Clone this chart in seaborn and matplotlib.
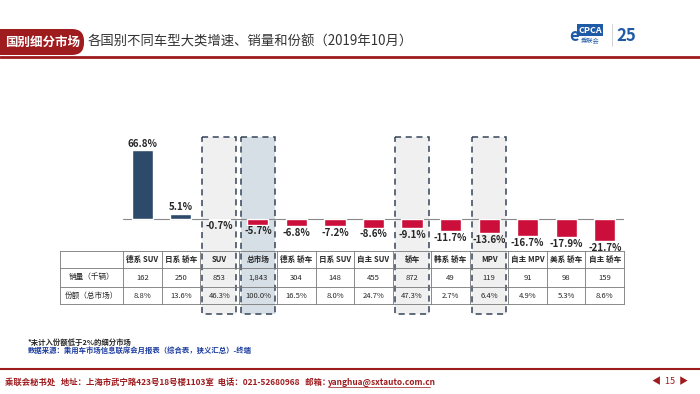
import matplotlib
matplotlib.use("Agg")
import matplotlib.pyplot as plt
from matplotlib.patches import Rectangle, FancyBboxPatch
import seaborn as sns
import pandas as pd

# ---- data ----
categories = ["德系 SUV", "日系 轿车", "SUV", "总市场", "德系 轿车", "日系 SUV", "自主 SUV",
              "轿车", "韩系 轿车", "MPV", "自主 MPV", "美系 轿车", "自主 轿车"]
growth = [66.8, 5.1, -0.7, -5.7, -6.8, -7.2, -8.6, -9.1, -11.7, -13.6, -16.7, -17.9, -21.7]
sales = ["162", "250", "853", "1,843", "304", "148", "455", "872", "49", "119", "91", "98", "159"]
share = [8.8, 13.6, 46.3, 100.0, 16.5, 8.0, 24.7, 47.3, 2.7, 6.4, 4.9, 5.3, 8.6]
row_labels = ["销量（千辆）", "份额（总市场）"]
highlight = ["SUV", "总市场", "轿车", "MPV"]

sns.set_theme(style="white")
plt.rcParams["font.family"] = ["Noto Sans CJK SC", "DejaVu Sans"]

W, H = 700, 394
DARK_RED = "#9E1B1E"
NAVY = "#2E4A6B"
CRIMSON = "#CC0E3A"

fig = plt.figure(figsize=(W / 100, H / 100), dpi=100)

# overlay axes in pixel coordinates for slide decorations and the table
ov = fig.add_axes([0, 0, 1, 1])
ov.set_xlim(0, W)
ov.set_ylim(H, 0)
ov.axis("off")

# header
ov.add_patch(FancyBboxPatch((-20, 29), 104, 26, boxstyle="round,pad=0,rounding_size=12",
                            fc=DARK_RED, ec="none"))
ov.text(5, 42, "国别细分市场", color="white", fontsize=9.0, fontweight="bold", va="center")
ov.text(88, 42, "各国别不同车型大类增速、销量和份额（2019年10月）", color="#333333",
        fontsize=9.6, va="center")
ov.plot([0, W], [57, 57], color=DARK_RED, lw=2)
# logo (approximation)
ov.text(590, 30, "CPCA", color="white", fontsize=6.5, fontweight="bold", style="italic",
        va="center", ha="center", bbox=dict(fc="#1F5AA6", ec="none", pad=1))
ov.text(590, 41, "乘联会", color="#1F5AA6", fontsize=4.5, va="center", ha="center")
ov.text(574, 36, "e", color="#1F5AA6", fontsize=12, fontweight="bold", style="italic",
        va="center", ha="center")
ov.plot([612, 612], [24, 46], color="#cccccc", lw=0.6)
ov.text(626, 36, "25", color="#1F5AA6", fontsize=12, fontweight="bold", style="italic",
        va="center", ha="center")

# table geometry
x0, x1 = 123, 624
col_w = (x1 - x0) / len(categories)
tab_left = 60
rows_y = [251, 268, 287, 304]

# dashed highlight boxes
for cat in highlight:
    i = categories.index(cat)
    cx = x0 + (i + 0.5) * col_w
    fc = "#D6DEE6" if cat == "总市场" else "#F0F0F0"
    ov.add_patch(Rectangle((cx - 17, 137), 34, 177, fc=fc, ec="#35455A", lw=1.1,
                           ls=(0, (4, 3)), zorder=1))

# table grid
for y in rows_y:
    ov.plot([tab_left, x1], [y, y], color="#777777", lw=0.6, zorder=2)
for k in range(len(categories) + 1):
    x = x0 + k * col_w
    ov.plot([x, x], [rows_y[0], rows_y[-1]], color="#777777", lw=0.6, zorder=2)
ov.plot([tab_left, tab_left], [rows_y[0], rows_y[-1]], color="#777777", lw=0.6, zorder=2)

for i, cat in enumerate(categories):
    cx = x0 + (i + 0.5) * col_w
    ov.text(cx, (rows_y[0] + rows_y[1]) / 2, cat, fontsize=5.5, fontweight="bold",
            ha="center", va="center", zorder=3)
    ov.text(cx, (rows_y[1] + rows_y[2]) / 2, sales[i], fontsize=5.5,
            ha="center", va="center", zorder=3)
    ov.text(cx, (rows_y[2] + rows_y[3]) / 2, f"{share[i]:.1f}%", fontsize=5.5,
            ha="center", va="center", zorder=3)
for r, lab in enumerate(row_labels):
    ov.text((tab_left + x0) / 2, (rows_y[r + 1] + rows_y[r + 2]) / 2, lab, fontsize=5.5,
            ha="center", va="center", zorder=3)

# notes
ov.text(28, 342, "*未计入份额低于2%的细分市场", fontsize=5.3, fontweight="bold", va="center")
ov.text(28, 350, "数据来源：乘用车市场信息联席会月报表（综合表，狭义汇总）-终端", fontsize=5.3,
        fontweight="bold", color="#1F3FA0", va="center")

# footer
ov.plot([0, W], [369, 369], color=DARK_RED, lw=1.5)
ov.text(5, 382, "乘联会秘书处   地址：上海市武宁路423号18号楼1103室  电话：021-52680968   邮箱：",
        fontsize=6, fontweight="bold", color=DARK_RED, va="center")
ov.text(328, 382, "yanghua@sxtauto.com.cn", fontsize=6, fontweight="bold", color=DARK_RED,
        va="center")
ov.plot([328, 430], [386.5, 386.5], color=DARK_RED, lw=0.5)
ov.text(670, 382, "◀  15  ▶", fontsize=6.5, color=DARK_RED, ha="center", va="center")

# bar axes aligned with table columns
px_per_pct = 1.03
base_y = 219
top_px, bot_px = 130, 250
ax = fig.add_axes([x0 / W, 1 - bot_px / H, (x1 - x0) / W, (bot_px - top_px) / H])
ax.patch.set_alpha(0)

df = pd.DataFrame({"category": categories, "growth": growth})
df["sign"] = ["pos" if g > 0 else "neg" for g in growth]
sns.barplot(data=df, x="category", y="growth", hue="sign",
            palette={"pos": NAVY, "neg": CRIMSON}, width=0.55, dodge=False,
            saturation=1, legend=False, ax=ax, zorder=3)
ax.set_xlim(-0.5, len(categories) - 0.5)
ax.set_ylim(-(bot_px - base_y) / px_per_pct, (base_y - top_px) / px_per_pct)
ax.axhline(0, color="#888888", lw=0.8, zorder=2)
ax.axis("off")

for i, g in enumerate(growth):
    if g > 0:
        ax.text(i, g + 1.5, f"{g:.1f}%", ha="center", va="bottom", fontsize=7,
                fontweight="bold", zorder=4)
    else:
        ax.text(i, g - 1.5, f"{g:.1f}%", ha="center", va="top", fontsize=7,
                fontweight="bold", zorder=4)

fig.savefig("out.png", dpi=100)
